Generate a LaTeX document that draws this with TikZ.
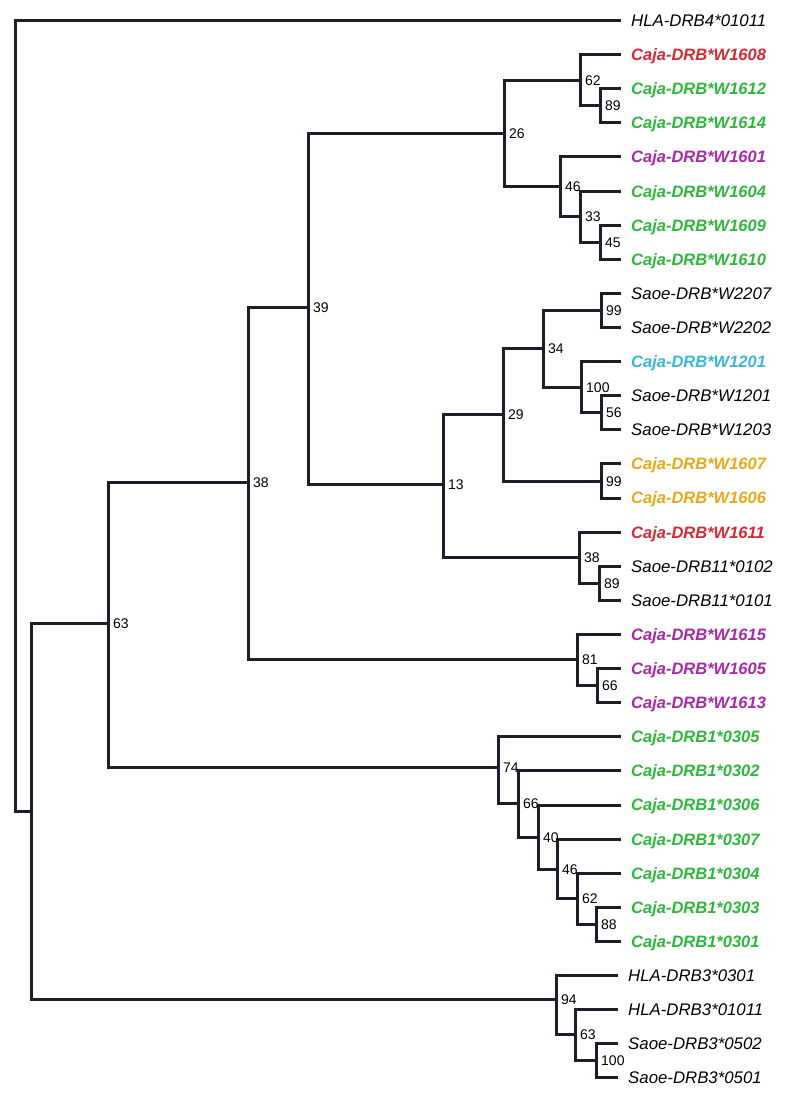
\documentclass[tikz,border=0pt]{standalone}
\usepackage{fontspec}
\setmainfont{Liberation Sans}
\usepackage{tikz}
\definecolor{branch}{HTML}{1E1E2A}
\definecolor{cajared}{HTML}{D42A32}
\definecolor{cajagreen}{HTML}{2DB83A}
\definecolor{cajapurple}{HTML}{A828A8}
\definecolor{cajacyan}{HTML}{38B8D8}
\definecolor{cajagold}{HTML}{E8A818}

\begin{document}
\begin{tikzpicture}[x=1pt, y=-1pt,
      br/.style={draw=branch, line width=3pt, line join=miter},
      leaf/.style={anchor=west, inner xsep=10pt, inner ysep=0pt,
                   text height=11.8pt, text depth=0pt,
                   font=\fontsize{16.8}{18}\selectfont\itshape},
      caja/.style={leaf, font=\fontsize{16.5}{18}\selectfont\itshape\bfseries},
      bs/.style={anchor=west, inner sep=0pt, xshift=5pt,
                 text height=10pt, text depth=0pt, font=\fontsize{14}{15}\selectfont}]
    \useasboundingbox (0,0) rectangle (786,1098);
    % leaves
    \node[leaf] (hla4) at (621,20.5) {HLA-DRB4*01011};
    \node[caja, text=cajared] (c1608) at (621,54.6) {Caja-DRB*W1608};
    \node[caja, text=cajagreen] (c1612) at (621,88.7) {Caja-DRB*W1612};
    \node[caja, text=cajagreen] (c1614) at (621,122.8) {Caja-DRB*W1614};
    \node[caja, text=cajapurple] (c1601) at (621,156.9) {Caja-DRB*W1601};
    \node[caja, text=cajagreen] (c1604) at (621,191.1) {Caja-DRB*W1604};
    \node[caja, text=cajagreen] (c1609) at (621,225.2) {Caja-DRB*W1609};
    \node[caja, text=cajagreen] (c1610) at (621,259.3) {Caja-DRB*W1610};
    \node[leaf] (s2207) at (621,293.4) {Saoe-DRB*W2207};
    \node[leaf] (s2202) at (621,327.5) {Saoe-DRB*W2202};
    \node[caja, text=cajacyan] (c1201) at (621,361.6) {Caja-DRB*W1201};
    \node[leaf] (s1201) at (621,395.7) {Saoe-DRB*W1201};
    \node[leaf] (s1203) at (621,429.8) {Saoe-DRB*W1203};
    \node[caja, text=cajagold] (c1607) at (621,463.9) {Caja-DRB*W1607};
    \node[caja, text=cajagold] (c1606) at (621,498.0) {Caja-DRB*W1606};
    \node[caja, text=cajared] (c1611) at (621,532.2) {Caja-DRB*W1611};
    \node[leaf] (s0102) at (621,566.3) {Saoe-DRB11*0102};
    \node[leaf] (s0101) at (621,600.4) {Saoe-DRB11*0101};
    \node[caja, text=cajapurple] (c1615) at (621,634.5) {Caja-DRB*W1615};
    \node[caja, text=cajapurple] (c1605) at (621,668.6) {Caja-DRB*W1605};
    \node[caja, text=cajapurple] (c1613) at (621,702.7) {Caja-DRB*W1613};
    \node[caja, text=cajagreen] (d0305) at (621,736.8) {Caja-DRB1*0305};
    \node[caja, text=cajagreen] (d0302) at (621,770.9) {Caja-DRB1*0302};
    \node[caja, text=cajagreen] (d0306) at (621,805.0) {Caja-DRB1*0306};
    \node[caja, text=cajagreen] (d0307) at (621,839.1) {Caja-DRB1*0307};
    \node[caja, text=cajagreen] (d0304) at (621,873.3) {Caja-DRB1*0304};
    \node[caja, text=cajagreen] (d0303) at (621,907.4) {Caja-DRB1*0303};
    \node[caja, text=cajagreen] (d0301) at (621,941.5) {Caja-DRB1*0301};
    \node[leaf] (h0301) at (618,975.6) {HLA-DRB3*0301};
    \node[leaf] (h01011) at (618,1009.7) {HLA-DRB3*01011};
    \node[leaf] (s0502) at (618,1043.8) {Saoe-DRB3*0502};
    \node[leaf] (s0501) at (618,1077.9) {Saoe-DRB3*0501};
    % internal nodes
    \coordinate (n89a) at (600,105.8);
    \coordinate (n62a) at (580,80.2);
    \coordinate (n45a) at (600,242.3);
    \coordinate (n33a) at (580,216.7);
    \coordinate (n46a) at (560,186.8);
    \coordinate (n26) at (504,133.5);
    \coordinate (n99a) at (601,310.5);
    \coordinate (n56) at (601,412.8);
    \coordinate (n100a) at (581,387.2);
    \coordinate (n34) at (543,348.8);
    \coordinate (n99b) at (601,481.0);
    \coordinate (n29) at (503,414.0);
    \coordinate (n89b) at (599,583.4);
    \coordinate (n38b) at (579,557.0);
    \coordinate (n13) at (443,484.0);
    \coordinate (n39) at (308,307.0);
    \coordinate (n66a) at (597,685.7);
    \coordinate (n81) at (577,659.0);
    \coordinate (n38a) at (248,482.5);
    \coordinate (n88) at (596,924.5);
    \coordinate (n62b) at (577,898.9);
    \coordinate (n46b) at (557,869.0);
    \coordinate (n40) at (538,837.0);
    \coordinate (n66b) at (518,803.0);
    \coordinate (n74) at (498,767.5);
    \coordinate (n63a) at (108,623.0);
    \coordinate (n100b) at (596,1060.9);
    \coordinate (n63b) at (575,1034.0);
    \coordinate (n94) at (556,999.0);
    \coordinate (nA) at (31,811.0);
    \coordinate (root) at (15,400.0);
    % branches
    \draw[br] (c1612.west) -| (n89a) |- (c1614.west);
    \draw[br] (c1608.west) -| (n62a) |- (n89a);
    \draw[br] (c1609.west) -| (n45a) |- (c1610.west);
    \draw[br] (c1604.west) -| (n33a) |- (n45a);
    \draw[br] (c1601.west) -| (n46a) |- (n33a);
    \draw[br] (n62a) -| (n26) |- (n46a);
    \draw[br] (s2207.west) -| (n99a) |- (s2202.west);
    \draw[br] (s1201.west) -| (n56) |- (s1203.west);
    \draw[br] (c1201.west) -| (n100a) |- (n56);
    \draw[br] (n99a) -| (n34) |- (n100a);
    \draw[br] (c1607.west) -| (n99b) |- (c1606.west);
    \draw[br] (n34) -| (n29) |- (n99b);
    \draw[br] (s0102.west) -| (n89b) |- (s0101.west);
    \draw[br] (c1611.west) -| (n38b) |- (n89b);
    \draw[br] (n29) -| (n13) |- (n38b);
    \draw[br] (n26) -| (n39) |- (n13);
    \draw[br] (c1605.west) -| (n66a) |- (c1613.west);
    \draw[br] (c1615.west) -| (n81) |- (n66a);
    \draw[br] (n39) -| (n38a) |- (n81);
    \draw[br] (d0303.west) -| (n88) |- (d0301.west);
    \draw[br] (d0304.west) -| (n62b) |- (n88);
    \draw[br] (d0307.west) -| (n46b) |- (n62b);
    \draw[br] (d0306.west) -| (n40) |- (n46b);
    \draw[br] (d0302.west) -| (n66b) |- (n40);
    \draw[br] (d0305.west) -| (n74) |- (n66b);
    \draw[br] (n38a) -| (n63a) |- (n74);
    \draw[br] (s0502.west) -| (n100b) |- (s0501.west);
    \draw[br] (h01011.west) -| (n63b) |- (n100b);
    \draw[br] (h0301.west) -| (n94) |- (n63b);
    \draw[br] (n63a) -| (nA) |- (n94);
    \draw[br] (hla4.west) -| (root) |- (nA);
    % bootstrap values
    \node[bs] at (n89a) {89};
    \node[bs] at (n62a) {62};
    \node[bs] at (n45a) {45};
    \node[bs] at (n33a) {33};
    \node[bs] at (n46a) {46};
    \node[bs] at (n26) {26};
    \node[bs] at (n99a) {99};
    \node[bs] at (n56) {56};
    \node[bs] at (n100a) {100};
    \node[bs] at (n34) {34};
    \node[bs] at (n99b) {99};
    \node[bs] at (n29) {29};
    \node[bs] at (n89b) {89};
    \node[bs] at (n38b) {38};
    \node[bs] at (n13) {13};
    \node[bs] at (n39) {39};
    \node[bs] at (n66a) {66};
    \node[bs] at (n81) {81};
    \node[bs] at (n38a) {38};
    \node[bs] at (n88) {88};
    \node[bs] at (n62b) {62};
    \node[bs] at (n46b) {46};
    \node[bs] at (n40) {40};
    \node[bs] at (n66b) {66};
    \node[bs] at (n74) {74};
    \node[bs] at (n63a) {63};
    \node[bs] at (n100b) {100};
    \node[bs] at (n63b) {63};
    \node[bs] at (n94) {94};
  \end{tikzpicture}
\end{document}
